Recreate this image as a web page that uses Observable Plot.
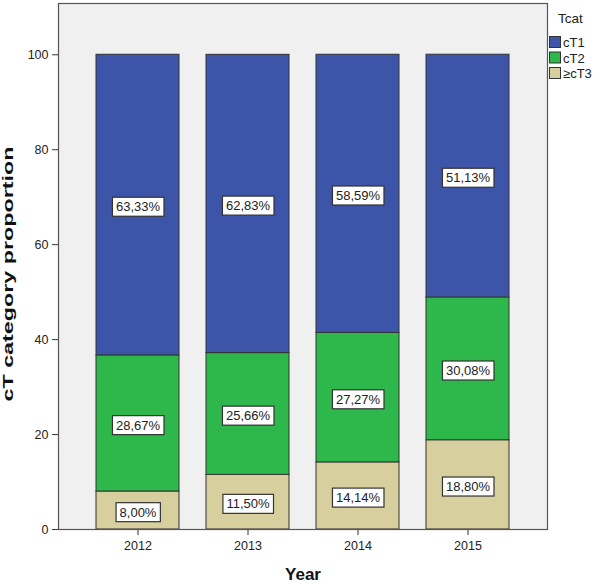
<!DOCTYPE html>
<html><head><meta charset="utf-8">
<script src="https://cdn.jsdelivr.net/npm/d3@7"></script>
<script src="https://cdn.jsdelivr.net/npm/@observablehq/plot@0.6"></script>
<style>
body{margin:0;background:#fff;}
svg{font-family:"Liberation Sans",Arial,sans-serif;}
</style></head>
<body>
<div id="chart"></div>
<script>
const years = ["2012","2013","2014","2015"];
const categories = ["≥cT3","cT2","cT1"];
const cT1 = [63.33,62.83,58.59,51.13];
const cT2 = [28.67,25.66,27.27,30.08];
const cT3 = [8.00,11.50,14.14,18.80];
const yTicks = [0,20,40,60,80,100];
const colors = {"cT1":"#3d55a9","cT2":"#2eb84b","≥cT3":"#d7d09e"};

const series = {"≥cT3":cT3,"cT2":cT2,"cT1":cT1};
const rows = [];
years.forEach((yr,i)=>{
  categories.forEach(c=>rows.push({year:yr,cat:c,value:series[c][i]}));
});
const fmt = v => v.toFixed(2).replace(".",",")+"%";

const plot = Plot.plot({
  width:597, height:585,
  marginLeft:58, marginRight:50, marginTop:3, marginBottom:56,
  style:{fontFamily:'"Liberation Sans",Arial,sans-serif',fontSize:"12.5px",color:"#222",background:"#fff"},
  x:{domain:years, paddingInner:0.245, paddingOuter:0.345, label:null},
  y:{domain:[0,110.8], label:null},
  color:{domain:categories, range:categories.map(c=>colors[c])},
  marks:[
    Plot.frame({fill:"#f0f0f0", stroke:"none"}),
    Plot.barY(rows, Plot.stackY({x:"year", y:"value", fill:"cat", stroke:"#333", strokeWidth:1})),
    Plot.text(rows, Plot.stackY({x:"year", y:"value", text:d=>fmt(d.value), fill:"#222", fontSize:13, dy:2, className:"seglabel"})),
    Plot.axisY({ticks:yTicks, tickSize:6, tickPadding:4, fontSize:12.5, stroke:"#333", label:null}),
    Plot.axisX({tickSize:6, tickPadding:6, fontSize:12.5, stroke:"#333", label:null}),
    Plot.frame({stroke:"#555", strokeWidth:1.2}),
  ]
});
document.getElementById("chart").appendChild(plot);

const svg = d3.select(plot);
// label boxes
svg.selectAll(".seglabel text").each(function(){
  const b = this.getBBox();
  const t = d3.select(this);
  const r = d3.select(this.parentNode).insert("rect", () => this)
    .attr("x", b.x-3.5).attr("y", b.y-2).attr("width", b.width+7).attr("height", b.height+4)
    .attr("fill","#fff").attr("stroke","#333").attr("stroke-width",1.2);
  if (t.attr("transform")) r.attr("transform", t.attr("transform"));
});
// axis titles
svg.append("text").attr("transform","translate(13,274) rotate(-90)")
  .attr("text-anchor","middle").attr("font-weight","bold").attr("font-size",15).attr("fill","#111")
  .attr("textLength",255).attr("lengthAdjust","spacingAndGlyphs")
  .text("cT category proportion");
svg.append("text").attr("x",303).attr("y",580)
  .attr("text-anchor","middle").attr("font-weight","bold").attr("font-size",17).attr("fill","#111")
  .text("Year");
// legend
const lg = svg.append("g").attr("text-anchor","start");
lg.append("text").attr("x",558).attr("y",23).attr("font-size",13.5).attr("fill","#222").text("Tcat");
["cT1","cT2","≥cT3"].forEach((c,i)=>{
  lg.append("rect").attr("x",549.5).attr("y",36.5+i*15.5).attr("width",11).attr("height",11)
    .attr("fill",colors[c]).attr("stroke","#333").attr("stroke-width",1);
  lg.append("text").attr("x",563).attr("y",47+i*15.5).attr("font-size",13).attr("fill","#222").text(c);
});
</script>
</body></html>
